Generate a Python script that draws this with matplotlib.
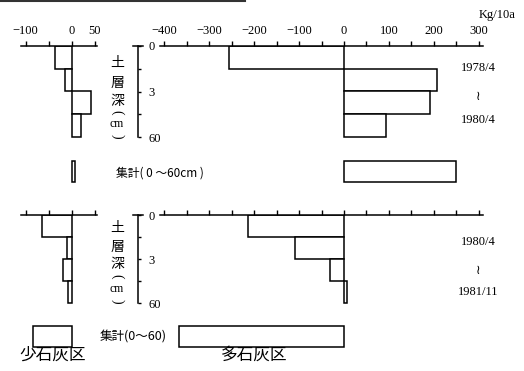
import numpy as np
import matplotlib.pyplot as plt
from matplotlib.lines import Line2D

# soil layers (cm) and change in lime per layer, Kg/10a
layer_mid = [7.5, 22.5, 37.5, 52.5]
layer_h = 15
depth_ticks = [0, 15, 30, 45, 60]
depth_labels = ["0", "", "3", "", "60"]

# 1978/4 - 1980/4
low_1978 = [-36, -15, 43, 20]
low_1978_total = 8
high_1978 = [-256, 207, 191, 93]
high_1978_total = 249

# 1980/4 - 1981/11
low_1980 = [-64, -10, -18, -8]
low_1980_total = -84
high_1980 = [-213, -109, -31, 7]
high_1980_total = -367

total_y = 83
total_h = 14

W, H = 524, 371
fig = plt.figure(figsize=(W / 100, H / 100), dpi=100)

serif = ["Liberation Serif", "Noto Sans CJK JP", "DejaVu Sans"]
cjk = ["Noto Sans CJK JP", "DejaVu Sans"]


def px_axes(x0, y0, x1, y1):
    return fig.add_axes([x0 / W, 1 - y1 / H, (x1 - x0) / W, (y1 - y0) / H])


def ftext(x, y, s, **kw):
    fig.text(x / W, 1 - y / H, s, ha="center", va="center", **kw)


def bar_panel(ax, vals, total, xlim, ticks, labels):
    ax.barh(layer_mid, vals, height=layer_h, color="white",
            edgecolor="black", linewidth=1.1)
    ax.barh([total_y], [total], height=total_h, color="white",
            edgecolor="black", linewidth=1.1)
    ax.set_xlim(xlim)
    ax.set_ylim(91, 0)
    for s in ["left", "right", "bottom"]:
        ax.spines[s].set_visible(False)
    ax.spines["top"].set_linewidth(1.1)
    ax.xaxis.tick_top()
    ax.set_xticks(ticks)
    ax.tick_params(axis="x", direction="out", length=3.5, width=1, pad=3)
    ax.set_yticks([])
    if labels is None:
        ax.set_xticklabels([])
    else:
        ax.set_xticklabels(labels, family=serif, fontsize=9)
    ax.patch.set_alpha(0)


def depth_axis(y0, y1, x=138):
    ax = px_axes(x - 5, y0, x, y1)
    ax.set_ylim(60, 0)
    ax.set_xlim(0, 1)
    for s in ["left", "top", "bottom"]:
        ax.spines[s].set_visible(False)
    ax.spines["right"].set_linewidth(1.1)
    ax.set_xticks([])
    ax.yaxis.tick_right()
    ax.set_yticks(depth_ticks)
    ax.set_yticklabels(depth_labels, family=serif, fontsize=9)
    ax.tick_params(axis="y", direction="out", length=2.5, width=1, pad=5)
    ax.plot([0, 2], [0, 0], color="black", lw=1.1,
            transform=ax.get_yaxis_transform(), clip_on=False)
    ax.patch.set_alpha(0)


left_lim = (-110, 55.4)
right_lim = (-409, 309)
left_ticks = [-100, -50, 0, 50]
left_labels = ["−100", "", "0", "50"]
right_ticks = list(range(-400, 301, 50))
right_labels = ["−400", "", "−300", "", "−200", "", "−100", "",
                "0", "", "100", "", "200", "", "300"]

# upper row
ax1 = px_axes(21, 46, 97, 184)
bar_panel(ax1, low_1978, low_1978_total, left_lim, left_ticks, left_labels)
ax2 = px_axes(160, 46, 483, 184)
bar_panel(ax2, high_1978, high_1978_total, right_lim, right_ticks, right_labels)
depth_axis(46, 137)

# lower row
ax3 = px_axes(21, 215, 97, 348.5)
bar_panel(ax3, low_1980, low_1980_total, left_lim, left_ticks, None)
ax4 = px_axes(160, 215, 483, 348.5)
bar_panel(ax4, high_1980, high_1980_total, right_lim, right_ticks, None)
depth_axis(215, 303)

# vertical "soil depth (cm)" labels, written top to bottom
for ys in ([63, 83, 101, 112, 124, 136], [228, 247, 264, 276, 289, 301]):
    ftext(117, ys[0], "土", family=cjk, fontsize=10)
    ftext(117, ys[1], "層", family=cjk, fontsize=10)
    ftext(117, ys[2], "深", family=cjk, fontsize=10)
    ftext(117, ys[3], "(", family=serif, fontsize=10, rotation=-90)
    ftext(117, ys[4], "cm", family=serif, fontsize=8.5)
    ftext(117, ys[5], ")", family=serif, fontsize=10, rotation=-90)

ftext(497, 15, "Kg/10a", family=serif, fontsize=9)
ftext(478, 68, "1978/4", family=serif, fontsize=9)
ftext(478, 97, "≀", family=["DejaVu Sans"], fontsize=9)
ftext(478, 120, "1980/4", family=serif, fontsize=9)
ftext(478, 242, "1980/4", family=serif, fontsize=9)
ftext(478, 270, "≀", family=["DejaVu Sans"], fontsize=9)
ftext(478, 292, "1981/11", family=serif, fontsize=9)

ftext(160, 173, "集計( 0 ～60cm )", family=cjk, fontsize=8.5)
ftext(133, 336, "集計(0～60)", family=cjk, fontsize=9)
ftext(53, 355, "少石灰区", family=cjk, fontsize=12)
ftext(254, 355, "多石灰区", family=cjk, fontsize=12)

# rule along the top edge of the scan
fig.add_artist(Line2D([0, 245 / W], [1 - 1 / H, 1 - 1 / H], color="#333333",
                      lw=1.5, transform=fig.transFigure))

fig.savefig("out.png", dpi=100)
